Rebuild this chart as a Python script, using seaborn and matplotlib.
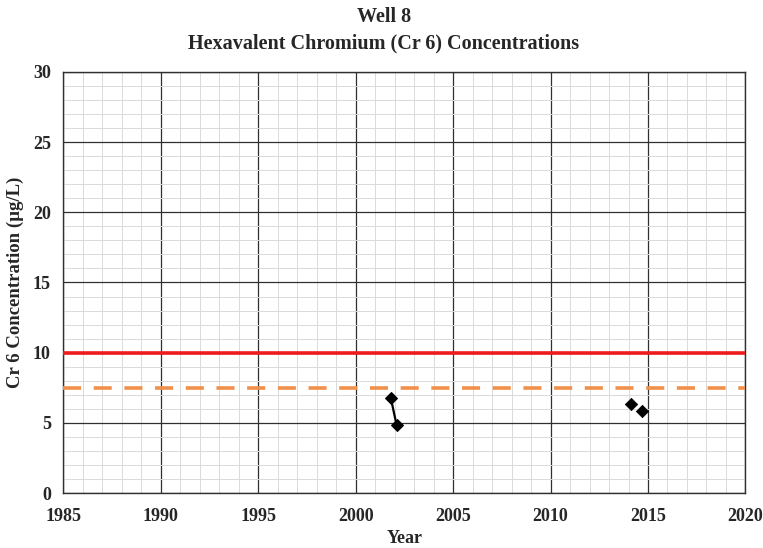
import matplotlib
matplotlib.use("Agg")
import matplotlib.pyplot as plt
import seaborn as sns
import pandas as pd
from matplotlib.ticker import MultipleLocator

# Data
group1_year = [2001.8, 2002.1]
group1_conc = [6.8, 4.85]
group2_year = [2014.15, 2014.7]
group2_conc = [6.35, 5.85]
mcl_level = 10
phg_level = 7.5

sns.set_theme(style="white")
plt.rcParams['font.family'] = ['Liberation Serif', 'DejaVu Serif']

fig, ax = plt.subplots(figsize=(7.63, 5.48), dpi=100)
fig.subplots_adjust(left=0.083, right=0.977, top=0.869, bottom=0.1)

ax.set_xlim(1985, 2020)
ax.set_ylim(0, 30)
ax.xaxis.set_major_locator(MultipleLocator(5))
ax.yaxis.set_major_locator(MultipleLocator(5))
ax.xaxis.set_minor_locator(MultipleLocator(1))
ax.yaxis.set_minor_locator(MultipleLocator(1))
ax.grid(which='minor', color='#dadada', linewidth=0.7)
ax.grid(which='major', color='#303030', linewidth=0.9)
ax.set_axisbelow(True)
for s in ax.spines.values():
    s.set_color('#303030')
    s.set_linewidth(1.0)
ax.tick_params(which='both', length=0)

ax.axhline(mcl_level, color='#ee1c1c', linewidth=2.6, zorder=3)
ax.axhline(phg_level, color='#f0904a', linewidth=2.6, linestyle=(0, (5, 3.5)), zorder=3)

df1 = pd.DataFrame({'Year': group1_year, 'Conc': group1_conc})
df2 = pd.DataFrame({'Year': group2_year, 'Conc': group2_conc})
sns.lineplot(data=df1, x='Year', y='Conc', ax=ax, color='black', linewidth=1.6,
             marker='D', markersize=6, markeredgecolor='black', zorder=4)
sns.scatterplot(data=df2, x='Year', y='Conc', ax=ax, color='black', marker='D',
                s=40, edgecolor='black', zorder=4)

for lab in ax.get_xticklabels() + ax.get_yticklabels():
    lab.set_fontweight('bold')
    lab.set_fontsize(13)
ax.tick_params(axis='x', pad=11)
ax.tick_params(axis='y', pad=9)

ax.set_xlabel('Year', fontsize=13, fontweight='bold', labelpad=3)
ax.set_ylabel('Cr 6 Concentration (µg/L)', fontsize=13.5, fontweight='bold', labelpad=6)
fig.suptitle('Well 8\nHexavalent Chromium (Cr 6) Concentrations', fontsize=14.5,
             fontweight='bold', x=0.503, y=0.988, linespacing=1.45)

fig.savefig('out.png', dpi=100)
